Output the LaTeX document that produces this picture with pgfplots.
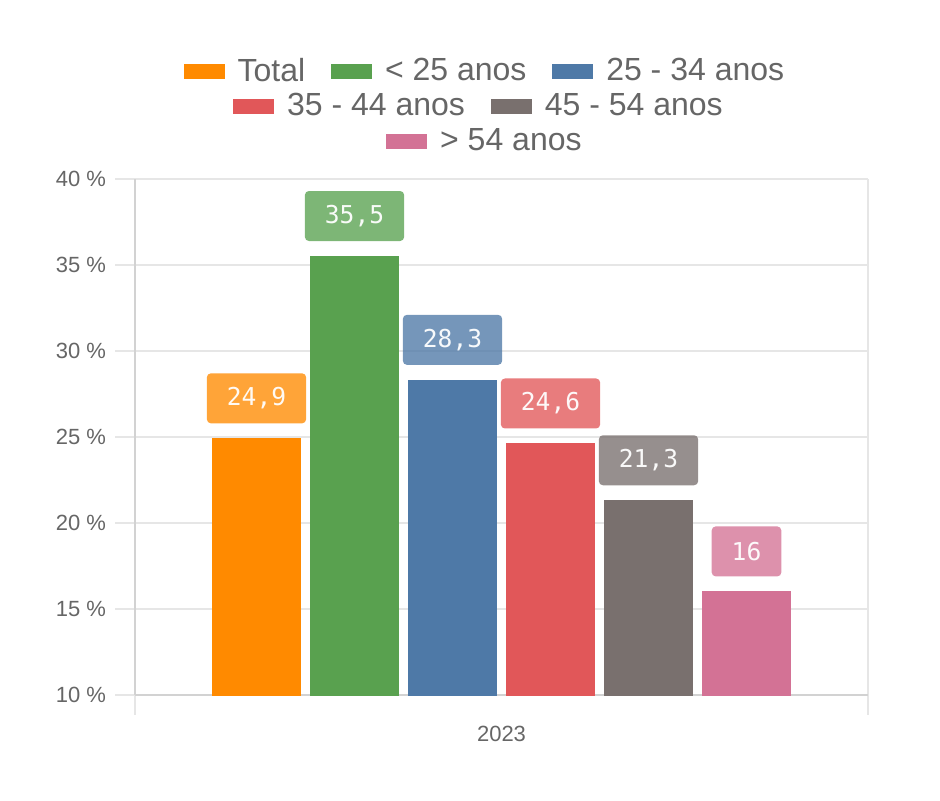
\documentclass[border=0pt]{standalone}
\usepackage{pgfplots}
\pgfplotsset{compat=1.18}
\usepackage{fontspec}
\setmainfont{Liberation Sans}
\newfontfamily\monofont{DejaVu Sans Mono}

\definecolor{cTotal}{HTML}{FF8A00}
\definecolor{cA}{HTML}{59A14F}
\definecolor{cB}{HTML}{4E79A7}
\definecolor{cC}{HTML}{E15759}
\definecolor{cD}{HTML}{79706E}
\definecolor{cE}{HTML}{D37295}
\definecolor{txt}{HTML}{666666}
\definecolor{gridc}{HTML}{E6E6E6}
\definecolor{axisc}{HTML}{D2D2D2}

\pgfplotsset{
  valbar/.style={ybar, bar width=88, bar shift=0pt, fill=#1, draw=#1, line width=0.4pt,
    nodes near coords={\pgfmathprintnumber[fixed,precision=1,use comma]{\pgfplotspointmeta}},
    nodes near coords style={anchor=south, yshift=7.5pt, fill=#1, fill opacity=0.78,
      text opacity=0.95, text=white, draw=none, rounded corners=2pt, inner xsep=10pt,
      minimum height=25pt, font=\monofont\fontsize{12.3}{14}\selectfont}},
  legrow/.style={hide axis, scale only axis, width=10pt, height=10pt,
    xmin=0, xmax=1, ymin=0, ymax=1, anchor=center,
    legend style={at={(0.5,0.5)}, anchor=center, draw=none, fill=none,
      legend columns=-1, font=\fontsize{16}{18}\selectfont, text=txt,
      /tikz/every odd column/.append style={column sep=4.5pt},
      /tikz/every even column/.append style={column sep=11pt}},
    legend image code/.code={\fill[##1] (0pt,-3.5pt) rectangle (20pt,3.5pt);}}
}

\begin{document}
\begin{tikzpicture}
\useasboundingbox (0,0) rectangle (470pt,400pt);
\begin{axis}[
  at={(67.5pt,52.5pt)}, anchor=south west,
  scale only axis, width=366.5pt, height=258pt,
  xmin=-366.5, xmax=366.5, ymin=10, ymax=40,
  ytick={10,15,...,40},
  yticklabel={\pgfmathprintnumber{\tick}~\%},
  /pgf/number format/assume math mode=true,
  xtick={-366.5,366.5}, xticklabels={},
  extra x ticks={0}, extra x tick labels={2023},
  extra x tick style={major tick length=0pt, grid=none},
  axis x line*=bottom, axis y line*=left,
  axis line style={draw=axisc, line width=1pt, -},
  tick align=outside, major tick length=10pt,
  tick style={draw=gridc, line width=1pt},
  grid=major, major grid style={draw=gridc, line width=1pt},
  ticklabel style={font=\fontsize{11}{13}\selectfont, text=txt},
  xticklabel style={yshift=-12pt},
  yticklabel style={xshift=-1pt},
  clip=true,
]
\addplot[valbar=cTotal] coordinates {(-245,24.9)};
\addplot[valbar=cA] coordinates {(-147,35.5)};
\addplot[valbar=cB] coordinates {(-49,28.3)};
\addplot[valbar=cC] coordinates {(49,24.6)};
\addplot[valbar=cD] coordinates {(147,21.3)};
\addplot[valbar=cE] coordinates {(245,16)};
\end{axis}

\begin{axis}[legrow, at={(243pt,364.5pt)}]
\addlegendimage{cTotal}\addlegendentry{Total}
\addlegendimage{cA}\addlegendentry{< 25 anos}
\addlegendimage{cB}\addlegendentry{25 - 34 anos}
\end{axis}
\begin{axis}[legrow, at={(240pt,347pt)}]
\addlegendimage{cC}\addlegendentry{35 - 44 anos}
\addlegendimage{cD}\addlegendentry{45 - 54 anos}
\end{axis}
\begin{axis}[legrow, at={(243pt,329.5pt)}]
\addlegendimage{cE}\addlegendentry{> 54 anos}
\end{axis}
\end{tikzpicture}
\end{document}
